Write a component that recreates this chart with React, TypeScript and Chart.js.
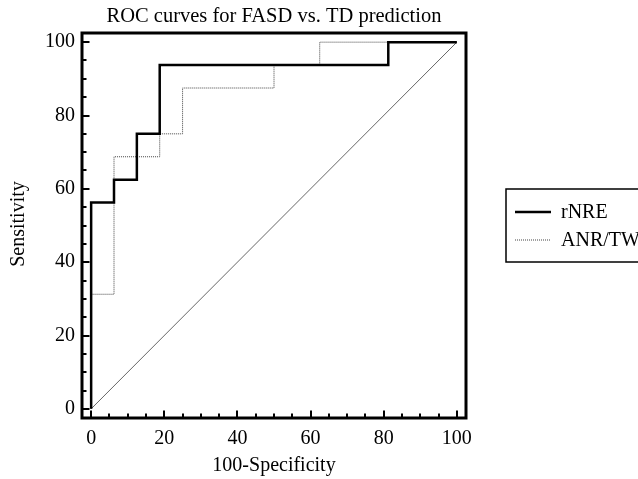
import React, { useEffect, useRef } from "react";
import { Chart, registerables } from "chart.js";

Chart.register(...registerables);

// ROC curve vertices (100-Specificity, Sensitivity), in percent
const rnreFpr = [0, 0, 6.25, 6.25, 12.5, 12.5, 18.75, 18.75, 81.25, 81.25, 100];
const rnreTpr = [0, 56.25, 56.25, 62.5, 62.5, 75, 75, 93.75, 93.75, 100, 100];

const anrFpr = [0, 0, 6.25, 6.25, 18.75, 18.75, 25, 25, 50, 50, 62.5, 62.5, 100];
const anrTpr = [0, 31.25, 31.25, 68.75, 68.75, 75, 75, 87.5, 87.5, 93.75, 93.75, 100, 100];

// chance line
const refFpr = [0, 100];
const refTpr = [0, 100];

const seriesLabels = ["rNRE", "ANR/TW"];
const majorTicks = [0, 20, 40, 60, 80, 100];
const minorStep = 5;

const chartTitle = "ROC curves for FASD vs. TD prediction";
const xTitle = "100-Specificity";
const yTitle = "Sensitivity";

const FONT = '"Liberation Serif", "Times New Roman", serif';

const toPoints = (xs: number[], ys: number[]) => xs.map((x, i) => ({ x, y: ys[i] }));

const framePlugin = {
  id: "frameAndLabels",
  afterDraw(chart: any) {
    const { ctx, chartArea } = chart;
    const { left, right, top, bottom } = chartArea;
    const xs = chart.scales.x;
    const ys = chart.scales.y;
    ctx.save();

    // inward tick marks
    ctx.strokeStyle = "#000";
    ctx.lineWidth = 2;
    ctx.lineCap = "butt";
    for (let v = 0; v <= 100; v += minorStep) {
      const major = majorTicks.includes(v);
      const len = major ? 7.5 : 4.5;
      const px = Math.round(xs.getPixelForValue(v));
      ctx.beginPath();
      ctx.moveTo(px, bottom);
      ctx.lineTo(px, bottom - len);
      ctx.stroke();
      const py = Math.round(ys.getPixelForValue(v));
      ctx.beginPath();
      ctx.moveTo(left, py);
      ctx.lineTo(left + len, py);
      ctx.stroke();
    }

    // heavy frame
    ctx.lineWidth = 3;
    ctx.strokeRect(left, top, right - left, bottom - top);

    // title
    ctx.fillStyle = "#000";
    ctx.font = `20.5px ${FONT}`;
    ctx.textAlign = "center";
    ctx.textBaseline = "alphabetic";
    ctx.fillText(chartTitle, (left + right) / 2, 22);

    // axis titles
    ctx.font = `20px ${FONT}`;
    ctx.fillText(xTitle, (left + right) / 2, 471);
    ctx.save();
    ctx.translate(19, 224);
    ctx.rotate(-Math.PI / 2);
    ctx.textBaseline = "middle";
    ctx.fillText(yTitle, 0, 0);
    ctx.restore();

    // legend box
    const bx = 506, by = 189, bh = 73;
    ctx.lineWidth = 1.5;
    ctx.strokeRect(bx, by, 200, bh);
    const rows = [212, 240];
    chart.data.datasets.slice(0, 2).forEach((ds: any, i: number) => {
      ctx.save();
      ctx.strokeStyle = ds.borderColor;
      ctx.lineWidth = ds.borderWidth;
      ctx.setLineDash(ds.borderDash || []);
      ctx.beginPath();
      ctx.moveTo(515, rows[i]);
      ctx.lineTo(551, rows[i]);
      ctx.stroke();
      ctx.restore();
      ctx.fillStyle = "#000";
      ctx.font = `20px ${FONT}`;
      ctx.textAlign = "left";
      ctx.textBaseline = "middle";
      ctx.fillText(ds.label, 561, rows[i] + 1);
    });

    ctx.restore();
  },
};

export default function App() {
  const canvasRef = useRef<HTMLCanvasElement | null>(null);

  useEffect(() => {
    document.body.style.margin = "0";
    const canvas = canvasRef.current;
    if (!canvas) return;
    const chart = new Chart(canvas, {
      type: "line",
      data: {
        datasets: [
          {
            label: seriesLabels[0],
            data: toPoints(rnreFpr, rnreTpr),
            borderColor: "#000000",
            borderWidth: 2.5,
            pointRadius: 0,
            tension: 0,
          },
          {
            label: seriesLabels[1],
            data: toPoints(anrFpr, anrTpr),
            borderColor: "#444444",
            borderWidth: 1,
            borderDash: [1, 1],
            pointRadius: 0,
            tension: 0,
          },
          {
            label: "chance",
            data: toPoints(refFpr, refTpr),
            borderColor: "#666666",
            borderWidth: 1,
            pointRadius: 0,
            tension: 0,
          },
        ],
      },
      options: {
        responsive: false,
        animation: false,
        devicePixelRatio: 1,
        layout: { padding: { top: 33, right: 172, left: 0, bottom: 0 } },
        plugins: {
          legend: { display: false },
          title: { display: false },
          tooltip: { enabled: false },
        },
        scales: {
          x: {
            type: "linear",
            min: -2.5,
            max: 102.5,
            grid: { display: false, drawTicks: false },
            border: { display: false },
            afterBuildTicks: (s: any) => {
              s.ticks = majorTicks.map((value) => ({ value }));
            },
            afterFit: (s: any) => {
              s.height = 61;
            },
            ticks: {
              color: "#000",
              padding: 9,
              maxRotation: 0,
              font: { family: FONT, size: 20 },
            },
          },
          y: {
            type: "linear",
            min: -2.5,
            max: 102.5,
            grid: { display: false, drawTicks: false },
            border: { display: false },
            afterBuildTicks: (s: any) => {
              s.ticks = majorTicks.map((value) => ({ value }));
            },
            afterFit: (s: any) => {
              s.width = 82;
            },
            ticks: {
              color: "#000",
              padding: 7,
              font: { family: FONT, size: 20 },
            },
          },
        },
      },
      plugins: [framePlugin],
    });
    return () => chart.destroy();
  }, []);

  return (
    <div style={{ position: "fixed", left: 0, top: 0, width: 638, height: 479, background: "#fff" }}>
      <canvas ref={canvasRef} width={638} height={479} />
    </div>
  );
}
